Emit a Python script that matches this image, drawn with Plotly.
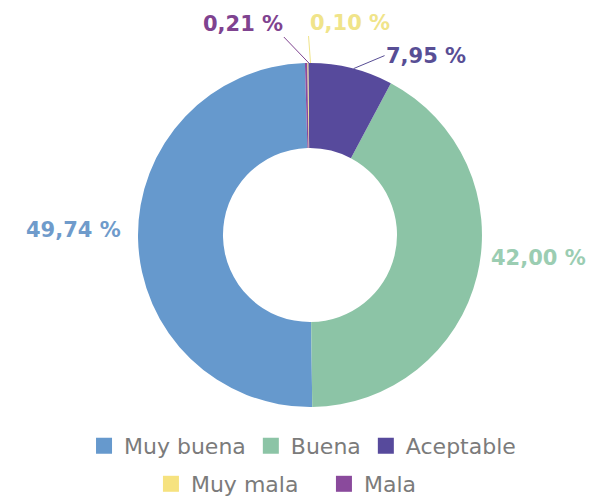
import math
import plotly.graph_objects as go

labels = ["Muy buena", "Buena", "Aceptable", "Muy mala", "Mala"]
values = [49.74, 42.00, 7.95, 0.10, 0.21]
colors = ["#6699CD", "#8CC4A6", "#574A9C", "#F6E27F", "#8A4A9C"]
text_colors = ["#6F9BCB", "#9BCDB2", "#584E95", "#F0E48A", "#7F4390"]
legend_row1 = ["Muy buena", "Buena", "Aceptable"]
legend_row2 = ["Muy mala", "Mala"]

texts = [f"{v:.2f}".replace(".", ",") + " %" for v in values]

W, H = 595, 497
ROT = -0.756          # start angle (deg, clockwise from 12 o'clock)
R_PX = 172
DOM_X = [0.2185, 0.7966]
DOM_Y = [0.1972, 0.8893]
CX = sum(DOM_X) / 2
CY = sum(DOM_Y) / 2

# label styling: (ax, ay, xanchor, yanchor, show line)
label_style = {
    "Muy buena": (-16, -6, "right", "middle", False),
    "Buena": (14, -20, "left", "middle", False),
    "Aceptable": (31, -13, "left", "middle", True),
    "Muy mala": (-2, -27, "left", "bottom", True),
    "Mala": (-25, -26, "right", "bottom", True),
}

fig = go.Figure()

# legend entries (two centred rows)
cmap = dict(zip(labels, colors))
for row, lg in ((legend_row1, "legend"), (legend_row2, "legend2")):
    for lab in row:
        fig.add_trace(
            go.Scatter(
                x=[None], y=[None], mode="markers", name=lab,
                marker=dict(symbol="square", size=20, color=cmap[lab], line=dict(width=0)),
                legend=lg, hoverinfo="skip",
            )
        )

fig.add_trace(
    go.Pie(
        labels=labels,
        values=values,
        textinfo="none",
        sort=False,
        direction="counterclockwise",
        rotation=180 + ROT,
        hole=0.506,
        marker=dict(colors=colors, line=dict(width=0)),
        domain=dict(x=DOM_X, y=DOM_Y),
        showlegend=False,
        hovertemplate="%{label}: %{value}<extra></extra>",
    )
)

# outside labels
total = sum(values)
cum = 0.0
annotations = []
for lab, v, t, tc in zip(labels, values, texts, text_colors):
    mid = ROT - 360 * (cum + v / 2) / total
    cum += v
    a = math.radians(mid)
    x = CX + R_PX * math.sin(a) / W
    y = CY + R_PX * math.cos(a) / H
    ax, ay, xa, ya, line = label_style[lab]
    annotations.append(
        dict(
            x=x, y=y, xref="paper", yref="paper",
            text=t, showarrow=True, ax=ax, ay=ay,
            xanchor=xa, yanchor=ya,
            arrowhead=0, arrowwidth=1,
            arrowcolor=tc if line else "rgba(0,0,0,0)",
            font=dict(family="DejaVu Sans", size=21, color=tc, weight="bold"),
            borderpad=0,
        )
    )

legend_common = dict(
    orientation="h",
    xanchor="center",
    font=dict(family="DejaVu Sans", size=22, color="#7B7B7B"),
    bgcolor="rgba(0,0,0,0)",
    itemsizing="trace",
)

fig.update_layout(
    width=W,
    height=H,
    margin=dict(l=0, r=0, t=0, b=0),
    paper_bgcolor="white",
    plot_bgcolor="white",
    font=dict(family="DejaVu Sans"),
    xaxis=dict(visible=False),
    yaxis=dict(visible=False),
    annotations=annotations,
    legend=dict(x=0.495, y=0.119, yanchor="middle", **legend_common),
    legend2=dict(x=0.531, y=0.0, yanchor="bottom", entrywidth=128,
                 entrywidthmode="pixels", **legend_common),
)

fig.write_html("out.html")
